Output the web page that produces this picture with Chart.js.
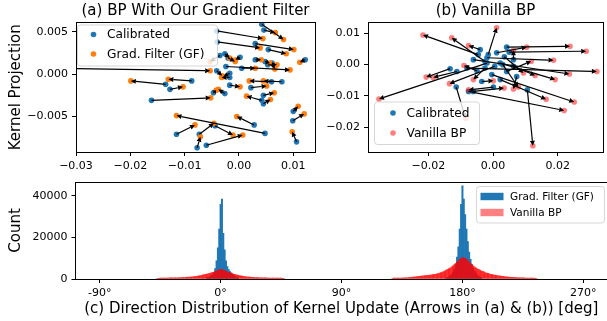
<!DOCTYPE html>
<html><head><meta charset="utf-8">
<script src="https://cdn.jsdelivr.net/npm/chart.js@4/dist/chart.umd.min.js"></script>
<style>
html,body{margin:0;padding:0;background:#fff;}
body{width:607px;height:321px;position:relative;overflow:hidden;}
.box{position:absolute;}
canvas{display:block;}
</style></head><body>
<div class="box" style="left:0;top:0;width:320px;height:172px"><canvas id="ca" width="320" height="172"></canvas></div>
<div class="box" style="left:320px;top:0;width:287px;height:172px"><canvas id="cb" width="287" height="172"></canvas></div>
<div class="box" style="left:0;top:160px;width:607px;height:161px"><canvas id="cc" width="607" height="161"></canvas></div>
<script>
// ---------- (a) BP with gradient filter: Calibrated -> GF ----------
const aCalX = [-0.0041,0.0042,0.0046,-0.0040,0.0030,0.0054,-0.0026,-0.0035,-0.0020,0.0122,0.0030,0.0048,0.0061,0.0053,-0.0024,0.0005,-0.0340,-0.0041,-0.0087,-0.0135,-0.0127,-0.0161,-0.0026,-0.0047,-0.0017,-0.0017,0.0060,0.0079,0.0022,0.0045,0.0042,0.0045,0.0100,0.0099,0.0106,-0.0115,-0.0073,-0.0077,-0.0060,0.0048,0.0028,-0.0044,0.0002,-0.0017];
const aCalY = [0.0051,0.0059,0.0052,0.0038,0.0036,0.0029,0.0024,0.0022,0.0019,0.0017,0.0017,0.0015,0.0013,0.0011,0.0009,0.0007,0.0007,0.0004,-0.0008,-0.0012,-0.0018,-0.0031,-0.0023,-0.0022,-0.0004,-0.0013,-0.0009,-0.0009,-0.0016,-0.0025,-0.0031,-0.0035,-0.0044,-0.0055,-0.0080,-0.0071,-0.0071,-0.0087,-0.0084,-0.0070,-0.0060,-0.0061,0.0020,0.0001];
const aGFX = [0.0044,0.0082,0.0067,0.0039,0.0101,0.0087,-0.0017,-0.0053,-0.0007,0.0112,0.0041,0.0057,0.0066,0.0070,0.0094,0.0030,-0.0053,-0.0031,-0.0130,-0.0199,-0.0103,-0.0052,-0.0038,-0.0042,-0.0032,0.0002,0.0019,0.0045,0.0051,0.0065,0.0014,0.0058,0.0109,0.0120,0.0098,-0.0081,-0.0046,-0.0071,0.0007,-0.0115,-0.0004,-0.0011,-0.0006,-0.0029];
const aGFY = [0.0042,0.0041,0.0049,0.0031,0.0029,0.0024,0.0019,0.0015,0.0015,0.0014,0.0017,0.0013,0.0006,0.0011,0.0005,0.0007,0.0004,-0.0002,-0.0006,-0.0008,-0.0015,-0.0028,-0.0018,-0.0019,-0.0004,-0.0015,-0.0008,-0.0008,-0.0014,-0.0022,-0.0026,-0.0030,-0.0038,-0.0047,-0.0068,-0.0060,-0.0058,-0.0074,-0.0072,-0.0049,-0.0050,-0.0072,0.0017,-0.0003];
const aXTicks = [-0.03, -0.02, -0.01, 0, 0.01];
const aYTicks = [-0.005, 0, 0.005];

// ---------- (b) Vanilla BP: Calibrated -> Vanilla ----------
const bCalX = [0.0042,0.0050,-0.0019,-0.0081,-0.0061,0.0022,0.0063,-0.0004,-0.0076,0.0022,0.0106,-0.0114,-0.0046,-0.0025,-0.0015,-0.0019,-0.0133,-0.0112,0.0005,0.0073,0.0011,0.0063,0.0042,-0.0061,-0.0025,0.0001,-0.0040,-0.0050,0.0030,0.0035,-0.0035];
const bCalY = [0.0056,0.0040,0.0022,-0.0011,0.0016,0.0005,-0.0005,-0.0032,-0.0086,-0.0048,-0.0081,-0.0072,0.0032,0.0010,0.0032,0.0005,-0.0013,-0.0022,-0.0005,-0.0038,0.0038,0.0016,-0.0022,-0.0086,-0.0011,-0.0072,0.0048,-0.0020,0.0000,0.0025,-0.0054];
const bVanX = [0.0238,0.0288,0.0187,0.0321,0.0236,0.0192,0.0130,0.0251,0.0220,0.0164,0.0123,-0.0085,-0.0217,-0.0128,0.0011,-0.0353,-0.0207,-0.0185,-0.0135,0.0063,0.0104,0.0063,0.0118,0.0034,-0.0061,-0.0076,-0.0076,-0.0090,0.0078,0.0094,0.0001];
const bVanY = [0.0059,0.0043,0.0014,-0.0022,-0.0030,-0.0048,-0.0035,-0.0120,-0.0147,-0.0111,-0.0260,-0.0172,0.0095,0.0086,0.0118,-0.0110,-0.0040,-0.0041,-0.0061,-0.0078,0.0056,0.0046,0.0011,-0.0075,-0.0048,-0.0081,0.0061,-0.0003,-0.0072,-0.0027,-0.0052];
const bXTicks = [-0.02, 0, 0.02];
const bYTicks = [-0.02, -0.01, 0, 0.01];

// ---------- (c) direction histogram (1-degree bins) ----------
const cXTicks = [-90, 0, 90, 180, 270];
const cYTicks = [0, 20000, 40000];
const gfNear0From = -10;
const gfNear0 = [600,800,1100,1500,2100,3000,5000,8700,15000,24000,36000,38500,22000,14000,8700,6000,4500,3600,3000,2300,1700,1200,800,500];
const gfNear180From = 168;
const gfNear180 = [500,750,1100,1600,2300,3300,4800,7000,10500,15500,24000,36000,44800,38500,31000,24000,18000,13000,9500,7000,5200,3800,2800,2000,1400,1000,700];
const vanNear0From = -47;
const vanNear0 = [300,380,420,440,450,460,470,480,500,510,
 520,540,550,570,580,600,620,650,680,710,
 740,780,820,870,920,980,1050,1130,1220,1320,
 1430,1550,1680,1810,1950,2100,2260,2420,2600,2780,
 2970,3170,3380,3600,3850,4150,4450,4650,4550,4300,
 4000,3700,3450,3200,2950,2720,2500,2300,2120,1950,
 1790,1640,1500,1380,1270,1170,1080,1000,930,870,
 820,780,740,700,670,640,610,590,570,550,
 530,510,500,490,480,470,460,450,440,430,
 420,410,400,380,300];
const vanNear180From = 128;
const vanNear180 = [300,400,430,450,460,480,490,500,520,540,
 560,600,650,720,800,880,960,1050,1140,1220,
 1300,1380,1460,1540,1620,1700,1750,1800,1900,2000,
 2100,2200,2300,2450,2650,2850,3050,3300,3550,3900,
 4250,4600,5000,5400,5850,6300,6900,7500,8100,8800,
 9500,10000,10250,10150,9900,9500,8900,8200,7500,6900,
 6300,5800,5350,4950,4600,4250,3950,3650,3400,3150,
 2900,2700,2500,2300,2150,2000,1870,1750,1640,1540,
 1440,1350,1260,1180,1100,1030,960,900,850,800,
 750,710,670,640,610,580,560,540,520,500,
 490,480,470,460,450,430,380,300];

// ---------- helpers ----------
Chart.defaults.font.family = "'DejaVu Sans', sans-serif";
Chart.defaults.color = '#000';
const C0 = '#1f77b4', C1 = '#ff7f0e';
const pts = (xs, ys) => xs.map((v, i) => ({x: v, y: ys[i]}));
const bins = (from, counts) => counts.map((c, i) => ({x: from + i, y: c}));
const fmt = dec => v => { if (Math.abs(v) < 1e-12) v = 0; return v.toFixed(dec).replace('-', '\u2212'); };
const fixTicks = list => s => { s.ticks = list.map(v => ({value: v})); };

function arrowsPlugin(cx, cy, tx, ty) {
  return { id: 'arrows', afterDatasetsDraw(chart) {
    const {ctx, chartArea: a, scales: {x, y}} = chart;
    ctx.save();
    ctx.beginPath(); ctx.rect(a.left, a.top, a.right - a.left, a.bottom - a.top); ctx.clip();
    ctx.strokeStyle = '#000'; ctx.fillStyle = '#000'; ctx.lineWidth = 1.2;
    for (let i = 0; i < cx.length; i++) {
      const x0 = x.getPixelForValue(cx[i]), y0 = y.getPixelForValue(cy[i]);
      const x1 = x.getPixelForValue(tx[i]), y1 = y.getPixelForValue(ty[i]);
      const dx = x1 - x0, dy = y1 - y0, L = Math.hypot(dx, dy);
      if (L < 0.5) continue;
      const ux = dx / L, uy = dy / L, hl = Math.min(5, L * 0.8), hw = 2.5;
      const bx = x1 - ux * hl, by = y1 - uy * hl;
      ctx.beginPath(); ctx.moveTo(x0, y0); ctx.lineTo(bx, by); ctx.stroke();
      ctx.beginPath(); ctx.moveTo(x1, y1);
      ctx.lineTo(bx - uy * hw, by + ux * hw); ctx.lineTo(bx + uy * hw, by - ux * hw);
      ctx.closePath(); ctx.fill();
    }
    ctx.restore();
  }};
}
const framePlugin = { id: 'frame', afterDatasetsDraw(chart) {
  const {ctx, chartArea: a} = chart;
  const al = v => Math.round(v - 0.5) + 0.5;
  ctx.save(); ctx.strokeStyle = '#000'; ctx.lineWidth = 1;
  const l = al(a.left), t = al(a.top), r = al(a.right), b = al(a.bottom);
  ctx.strokeRect(l, t, r - l, b - t);
  ctx.restore();
}};
function rr(ctx, x, y, w, h, r) {
  ctx.beginPath(); ctx.moveTo(x + r, y);
  ctx.arcTo(x + w, y, x + w, y + h, r); ctx.arcTo(x + w, y + h, x, y + h, r);
  ctx.arcTo(x, y + h, x, y, r); ctx.arcTo(x, y, x + w, y, r); ctx.closePath();
}
function boxLegend(o) {
  return { id: 'boxLegend', afterDraw(chart) {
    const {ctx, chartArea: a} = chart;
    const bx = o.box(a);
    ctx.save();
    rr(ctx, bx.x + 0.5, bx.y + 0.5, bx.w, bx.h, 3);
    ctx.fillStyle = 'rgba(255,255,255,0.8)'; ctx.fill();
    ctx.strokeStyle = 'rgba(204,204,204,0.8)'; ctx.lineWidth = 1; ctx.stroke();
    ctx.font = o.size + "px 'DejaVu Sans'"; ctx.textBaseline = 'middle'; ctx.textAlign = 'left';
    o.items.forEach((it, i) => {
      const yy = bx.y + o.rows[i];
      ctx.fillStyle = it.color;
      if (it.kind === 'circle') { ctx.beginPath(); ctx.arc(bx.x + o.mx, yy, 2.8, 0, Math.PI * 2); ctx.fill(); }
      else { ctx.fillRect(bx.x + o.mx - 11.5, yy - 3.7, 23, 7.4); }
      ctx.fillStyle = '#000'; ctx.fillText(it.text, bx.x + o.tx, yy + 0.5);
    });
    ctx.restore();
  }};
}
const gridOpts = {drawOnChartArea: false, drawTicks: true, tickLength: 4, tickColor: '#000', color: '#000', lineWidth: 1, offset: false};
const tickOpts = cb => ({callback: cb, font: {size: 11}, padding: 4, maxRotation: 0, autoSkip: false, color: '#000'});

// ---------- chart (a) ----------
new Chart(document.getElementById('ca'), {
  type: 'scatter',
  data: {datasets: [
    {label: 'Calibrated', data: pts(aCalX, aCalY), backgroundColor: C0, pointRadius: 2.8, pointBorderWidth: 0, order: 2, clip: 0},
    {label: 'Grad. Filter (GF)', data: pts(aGFX, aGFY), backgroundColor: C1, pointRadius: 2.8, pointBorderWidth: 0, order: 1, clip: 0}
  ]},
  options: {
    responsive: false, devicePixelRatio: 1, animation: false,
    layout: {padding: {left: 0, right: 5, top: 0, bottom: 0}},
    plugins: {legend: {display: false}, tooltip: {enabled: false},
      title: {display: true, text: '(a) BP With Our Gradient Filter', font: {size: 15, weight: 'normal'}, color: '#000', padding: {top: 2.5, bottom: 2}, fullSize: false}},
    scales: {
      x: {type: 'linear', min: -0.03, max: 0.014, afterBuildTicks: fixTicks(aXTicks), ticks: tickOpts(fmt(2)), grid: gridOpts, border: {display: false}, afterFit: s => { s.height = 20; }},
      y: {type: 'linear', min: -0.0092, max: 0.0061, afterBuildTicks: fixTicks(aYTicks), ticks: tickOpts(fmt(3)), grid: gridOpts, border: {display: false},
        title: {display: true, text: 'Kernel Projection', font: {size: 15}, color: '#000', padding: {top: 7, bottom: 0}},
        afterFit: s => { s.width = 76; }}
    }
  },
  plugins: [arrowsPlugin(aCalX, aCalY, aGFX, aGFY), framePlugin, boxLegend({
    box: a => ({x: a.left + 1, y: a.top + 2, w: 140, h: 41}), mx: 16.5, tx: 30, rows: [10, 29.5], size: 12.2,
    items: [{kind: 'circle', color: C0, text: 'Calibrated'}, {kind: 'circle', color: C1, text: 'Grad. Filter (GF)'}]})]
});

// ---------- chart (b) ----------
new Chart(document.getElementById('cb'), {
  type: 'scatter',
  data: {datasets: [
    {label: 'Calibrated', data: pts(bCalX, bCalY), backgroundColor: C0, pointRadius: 2.8, pointBorderWidth: 0, order: 2, clip: 0},
    {label: 'Vanilla BP', data: pts(bVanX, bVanY), backgroundColor: 'rgba(255,0,0,0.5)', pointRadius: 2.8, pointBorderWidth: 0, order: 1, clip: 0}
  ]},
  options: {
    responsive: false, devicePixelRatio: 1, animation: false,
    layout: {padding: {left: 0, right: 4, top: 0, bottom: 0}},
    plugins: {legend: {display: false}, tooltip: {enabled: false},
      title: {display: true, text: '(b) Vanilla BP', font: {size: 15, weight: 'normal'}, color: '#000', padding: {top: 2.5, bottom: 2}, fullSize: false}},
    scales: {
      x: {type: 'linear', min: -0.0387, max: 0.034, afterBuildTicks: fixTicks(bXTicks), ticks: tickOpts(fmt(2)), grid: gridOpts, border: {display: false}, afterFit: s => { s.height = 20; }},
      y: {type: 'linear', min: -0.028, max: 0.0135, afterBuildTicks: fixTicks(bYTicks), ticks: tickOpts(fmt(2)), grid: gridOpts, border: {display: false}, afterFit: s => { s.width = 48; }}
    }
  },
  plugins: [arrowsPlugin(bCalX, bCalY, bVanX, bVanY), framePlugin, boxLegend({
    box: a => ({x: a.left + 6, y: a.bottom - 50.5, w: 105, h: 42.5}), mx: 19, tx: 32.5, rows: [11.5, 31.5], size: 12.2,
    items: [{kind: 'circle', color: C0, text: 'Calibrated'}, {kind: 'circle', color: 'rgba(255,0,0,0.5)', text: 'Vanilla BP'}]})]
});

// ---------- chart (c) ----------
new Chart(document.getElementById('cc'), {
  type: 'bar',
  data: {datasets: [
    {label: 'Grad. Filter (GF)', data: bins(gfNear0From, gfNear0).concat(bins(gfNear180From, gfNear180)), backgroundColor: C0, borderWidth: 0, grouped: false, order: 2, categoryPercentage: 1, barPercentage: 1},
    {label: 'Vanilla BP', data: bins(vanNear0From, vanNear0).concat(bins(vanNear180From, vanNear180)), backgroundColor: 'rgba(255,0,0,0.75)', borderWidth: 0, grouped: false, order: 1, categoryPercentage: 1, barPercentage: 1}
  ]},
  options: {
    responsive: false, devicePixelRatio: 1, animation: false,
    layout: {padding: {left: 0, right: 0, top: 22, bottom: 0}},
    plugins: {legend: {display: false}, tooltip: {enabled: false}},
    scales: {
      x: {type: 'linear', offset: false, min: -108, max: 287.6, afterBuildTicks: fixTicks(cXTicks),
        ticks: tickOpts(v => v + '\u00b0'), grid: gridOpts, border: {display: false},
        title: {display: true, text: '(c) Direction Distribution of Kernel Update (Arrows in (a) & (b)) [deg]', font: {size: 15}, color: '#000', padding: {top: 0, bottom: 3}},
        afterFit: s => { s.height = 42; }},
      y: {type: 'linear', min: 0, max: 46700, afterBuildTicks: fixTicks(cYTicks), ticks: tickOpts(v => String(Math.round(v))), grid: gridOpts, border: {display: false},
        title: {display: true, text: 'Count', font: {size: 15}, color: '#000', padding: {top: 7, bottom: 0}},
        afterFit: s => { s.width = 75.5; }}
    }
  },
  plugins: [framePlugin, boxLegend({
    box: a => ({x: a.right - 131, y: a.top + 4, w: 128, h: 36.5}), mx: 16, tx: 34, rows: [10.5, 26.5], size: 10.5,
    items: [{kind: 'rect', color: C0, text: 'Grad. Filter (GF)'}, {kind: 'rect', color: '#ff8080', text: 'Vanilla BP'}]})]
});
</script>
</body></html>
